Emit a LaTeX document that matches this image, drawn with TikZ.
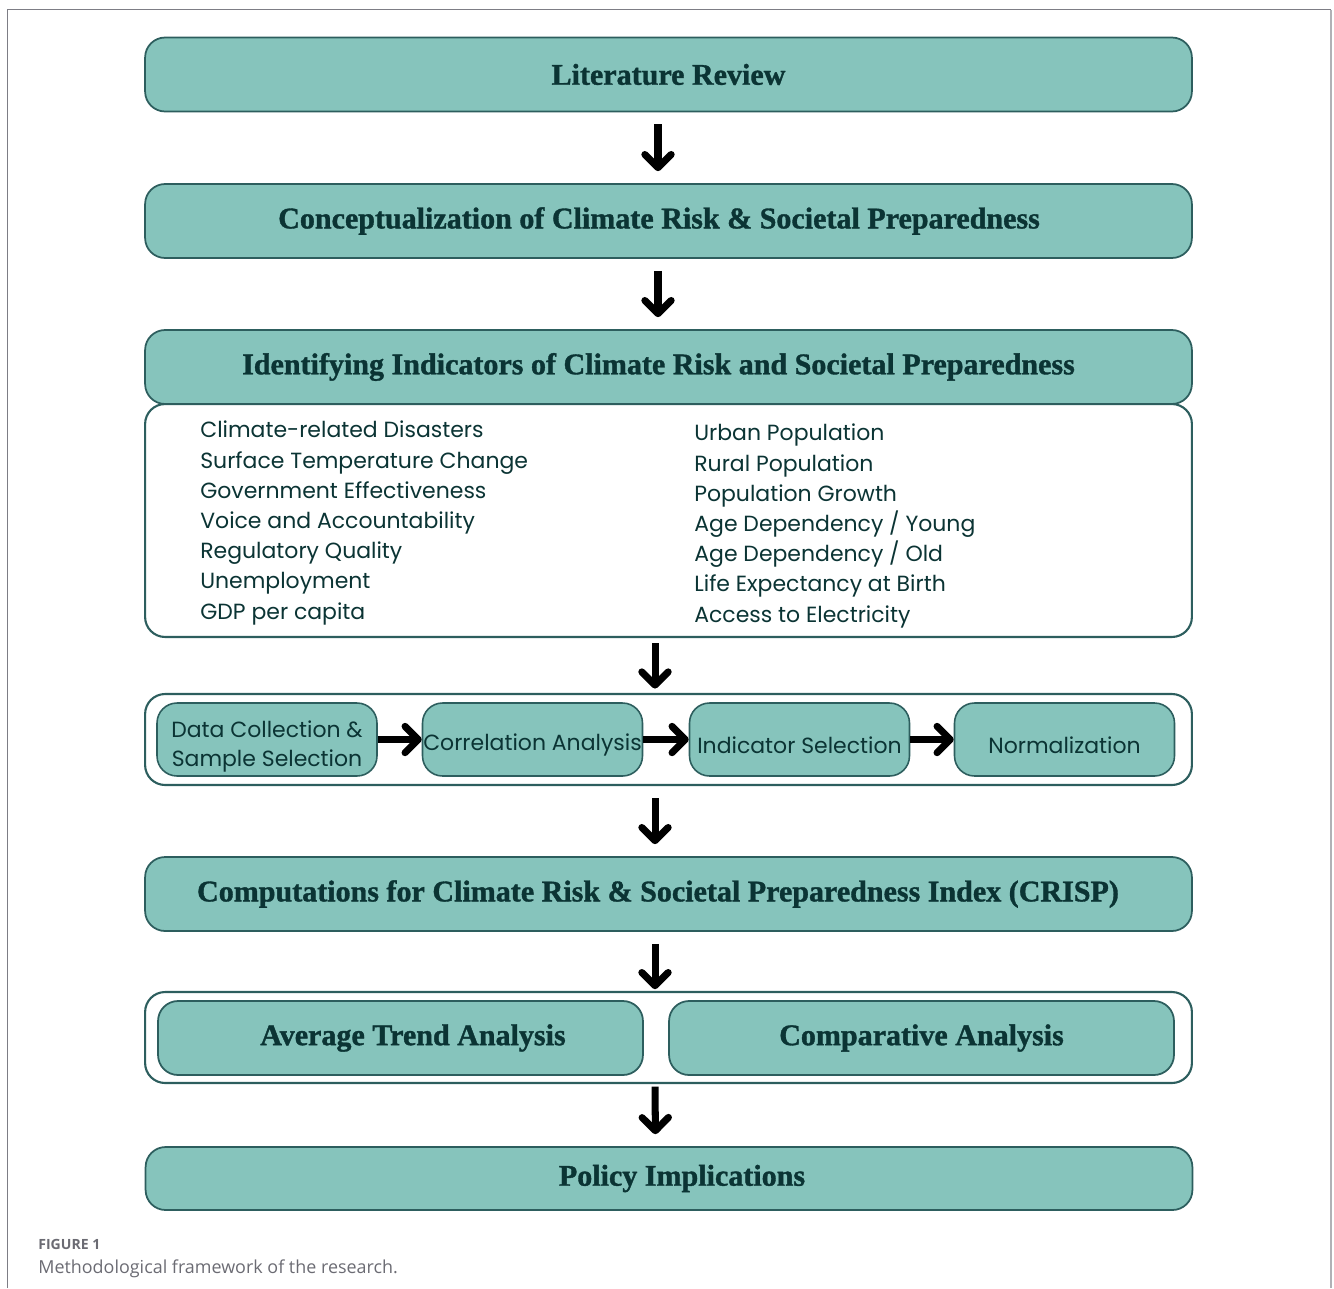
\documentclass[tikz,border=0pt]{standalone}
\usepackage{fontspec}
\usetikzlibrary{arrows.meta}
\newfontfamily\headserif{Liberation Serif}[BoldFeatures={FakeBold=1.2}]
\newfontfamily\listsans{Poppins}
\newfontfamily\capsans{Open Sans}
\definecolor{boxfill}{HTML}{86C4BC}
\definecolor{boxline}{HTML}{2D5E5E}
\definecolor{boxtext}{HTML}{0B3434}
\definecolor{framegray}{HTML}{7D7D85}
\definecolor{capgray}{HTML}{6B6B73}
\tikzset{
  stage/.style={draw=boxline, fill=boxfill, line width=1pt, rounded corners=0.4cm,
    minimum width=20.94cm, minimum height=1.48cm, inner sep=0pt,
    font=\headserif\bfseries\fontsize{17.1}{20}\selectfont, text=boxtext},
  substage/.style={draw=boxline, fill=boxfill, line width=0.9pt, rounded corners=0.4cm,
    minimum width=4.4cm, minimum height=1.46cm, inner sep=0pt, align=center,
    font=\listsans\fontsize{12.5}{17}\selectfont, text=boxtext,
    execute at begin node={\rule{0pt}{16pt}}},
  holder/.style={draw=boxline, fill=white, line width=1.2pt, rounded corners=0.4cm,
    minimum width=20.94cm, inner sep=0pt},
  items/.style={anchor=west, align=left, inner sep=0pt,
    font=\listsans\fontsize{12.5}{17.2}\selectfont, text=boxtext},
  flow/.style={-{Straight Barb[length=7.5pt,width=15pt,round]}, line width=4pt,
    shorten <=6.8pt, shorten >=6.8pt},
  sideflow/.style={-{Straight Barb[length=7.5pt,width=15pt,round]}, line width=4pt}
}
\begin{document}
\begin{tikzpicture}[x=0.02cm,y=-0.02cm]
  \useasboundingbox (0,0) rectangle (1334,1288);
  % page frame
  \draw[framegray, line width=0.9pt] (7.5,1288) -- (7.5,9.5) -- (1331,9.5);
  \draw[framegray!60, line width=0.9pt] (1331,9.5) -- (1331,1288);

  % main stages
  \node[stage] (lit) at (668.5,74.5) {Literature Review};
  \node[stage] (concept) at (668.5,221) {Conceptualization of Climate Risk \& Societal Preparedness\hspace*{0.38cm}};
  \node[holder, minimum height=4.66cm] (indbox) at (668.5,520.5) {};
  \node[stage] (ident) at (668.5,367) {Identifying Indicators of Climate Risk and Societal Preparedness\hspace*{0.4cm}};

  % indicator lists
  \node[items] (leftlist) at (200,523) {Climate-related Disasters\\Surface Temperature Change\\Government Effectiveness\\Voice and Accountability\\Regulatory Quality\\Unemployment\\GDP per capita};
  \node[items] (rightlist) at (694,526) {Urban Population\\Rural Population\\Population Growth\\Age Dependency / Young\\Age Dependency / Old\\Life Expectancy at Birth\\Access to Electricity};

  % data steps
  \node[holder, minimum height=1.82cm] (steps) at (668.5,739.5) {};
  \node[substage] (collect) at (267,739.5) {\rule{0pt}{17.5pt}Data Collection \&\\Sample Selection};
  \node[substage] (corr) at (532.5,739.5) {Correlation Analysis};
  \node[substage] (select) at (799.5,739.5) {Indicator Selection};
  \node[substage] (norm) at (1064.5,739.5) {Normalization};
  \draw[sideflow] (collect) -- (corr);
  \draw[sideflow] (corr) -- (select);
  \draw[sideflow] (select) -- (norm);

  \node[stage] (crisp) at (668.5,894) {Computations for Climate Risk \& Societal Preparedness Index (CRISP)\hspace*{0.42cm}};

  % analyses
  \node[holder, minimum height=1.82cm] (analyses) at (668.5,1037.5) {};
  \node[stage, minimum width=9.7cm] (trend) at (400.5,1038) {\hspace*{0.5cm}Average Trend Analysis};
  \node[stage, minimum width=10.1cm] (compar) at (921.5,1038) {Comparative Analysis};

  \node[stage, minimum height=1.26cm] (policy) at (669,1178.5) {\hspace*{0.52cm}Policy Implications};

  % vertical flow
  \draw[flow] ([xshift=-0.21cm]lit.south) -- ([xshift=-0.21cm]concept.north);
  \draw[flow] ([xshift=-0.21cm]concept.south) -- ([xshift=-0.21cm]ident.north);
  \draw[flow, shorten <=3pt, shorten >=2.5pt] ([xshift=-0.27cm]indbox.south) -- ([xshift=-0.27cm]steps.north);
  \draw[flow] ([xshift=-0.27cm]steps.south) -- ([xshift=-0.27cm]crisp.north);
  \draw[flow, shorten >=1pt] ([xshift=-0.27cm]crisp.south) -- ([xshift=-0.27cm]analyses.north);
  \draw[flow, shorten <=1.5pt] ([xshift=-0.27cm]analyses.south) -- ([xshift=-0.27cm]policy.north);

  % caption
  \node[anchor=west, inner sep=0pt, text=capgray, font=\capsans\bfseries\fontsize{8}{10}\selectfont] (figlabel) at (38,1244) {FIGURE 1};
  \node[anchor=west, inner sep=0pt, text=capgray, font=\capsans\fontsize{10.2}{12}\selectfont] (figcaption) at (38,1268.5) {Methodological framework of the research.};
\end{tikzpicture}
\end{document}
